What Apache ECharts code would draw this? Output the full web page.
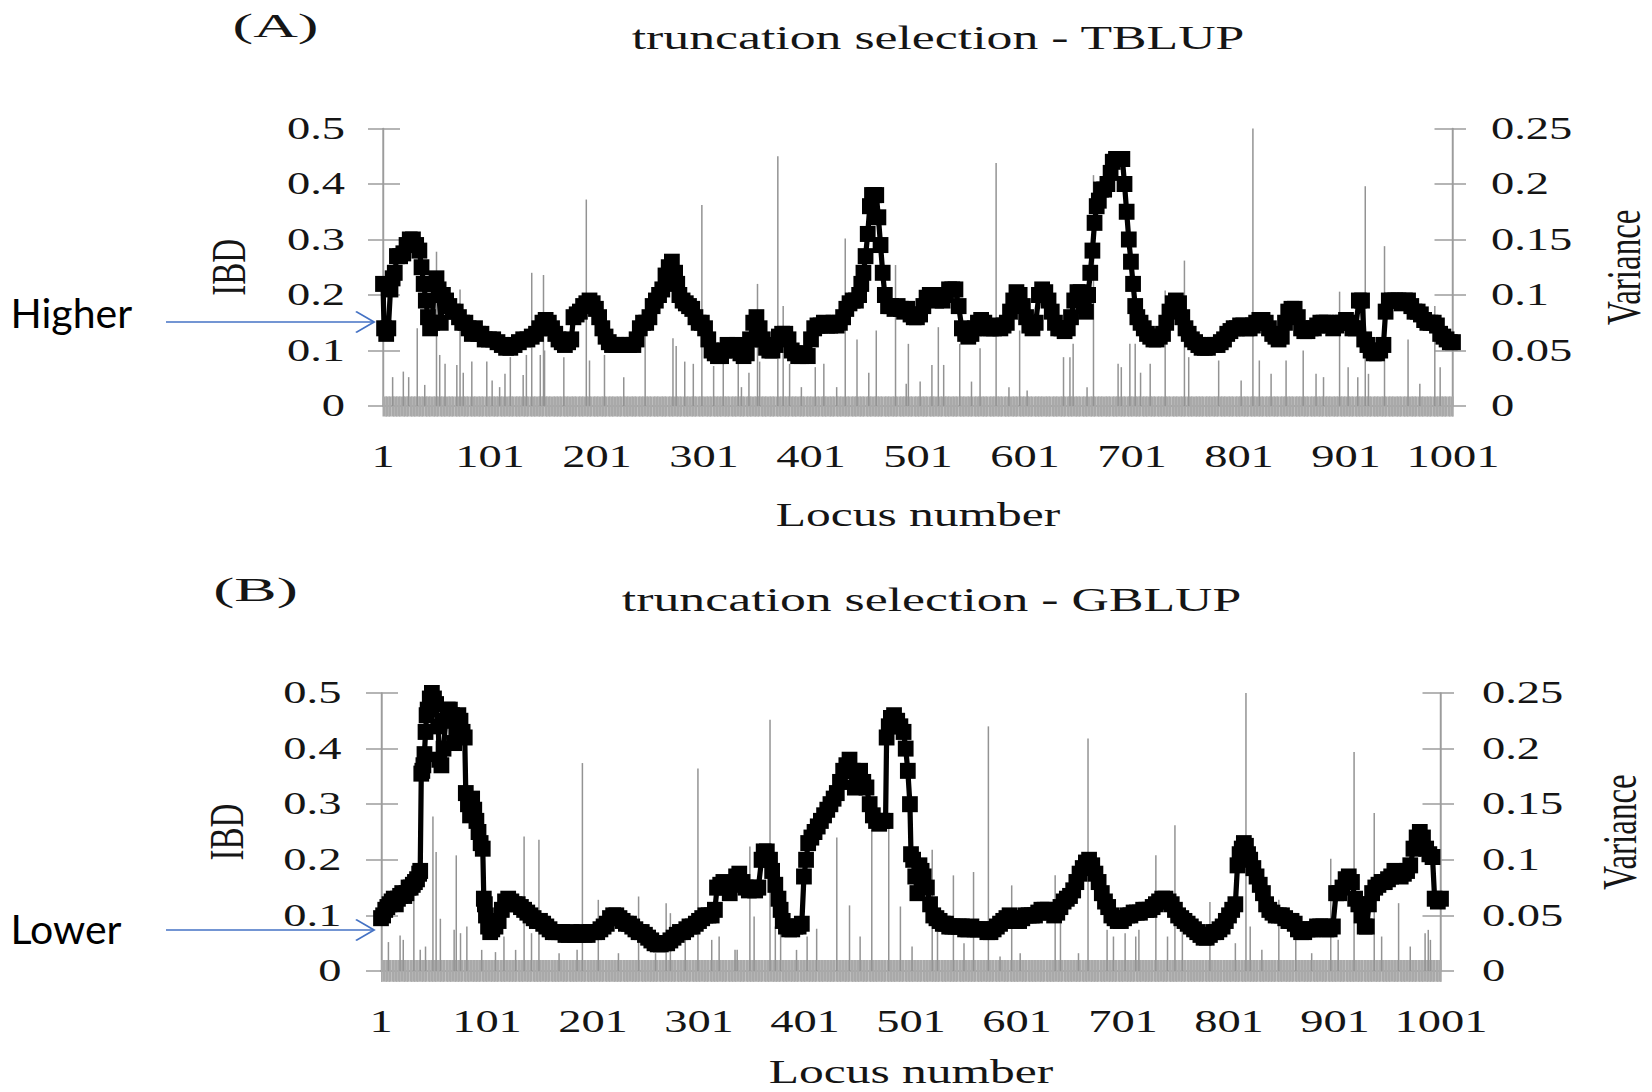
<!DOCTYPE html>
<html>
<head>
<meta charset="utf-8">
<script src="https://cdn.jsdelivr.net/npm/echarts@6/dist/echarts.min.js"></script>
<style>
  html, body { margin: 0; padding: 0; background: #fff; overflow: hidden; }
  #stage { width: 1652px; height: 1092px; overflow: hidden; position: relative; }
  /* the figure is laid out narrow and widened horizontally, like the printed plate */
  #chart { width: 1101.333px; height: 1092px; transform: scaleX(1.5); transform-origin: 0 0; }
</style>
</head>
<body>
<div id="stage"><div id="chart"></div></div>
<script>
// ---------------- data ----------------
const LOCUS_COUNT = 1001;
const locusLabels = Array.from({ length: LOCUS_COUNT }, (_, i) => String(i + 1));
const ibdTicks = { min: 0, max: 0.5, step: 0.1 };
const varianceTicks = { min: 0, max: 0.25, step: 0.05 };
const panelTitles = ['truncation selection - TBLUP', 'truncation selection - GBLUP'];
const panelTags = ['(A)', '(B)'];
const arrowNotes = ['Higher', 'Lower'];

// IBD per locus, [locus, IBD]
const ibdTBLUP = [
  [1,0.22],[2,0.14],[4,0.13],[6,0.14],[8,0.21],[10,0.23],[12,0.24],[14,0.27],[17,0.27],[20,0.275],
  [23,0.29],[26,0.30],[29,0.30],[32,0.29],[35,0.28],[37,0.25],[39,0.22],[41,0.19],[43,0.16],[45,0.14],
  [47,0.15],[49,0.22],[51,0.23],[53,0.21],[55,0.15],[57,0.20],[60,0.19],[63,0.18],[66,0.17],[69,0.17],
  [72,0.16],[75,0.15],[78,0.15],[81,0.14],[84,0.13],[87,0.14],[90,0.13],[93,0.13],[96,0.12],[100,0.12],
  [104,0.12],[108,0.115],[112,0.11],[116,0.105],[120,0.105],[124,0.11],[128,0.115],[132,0.12],[136,0.12],[140,0.125],
  [144,0.13],[147,0.14],[150,0.15],[153,0.155],[156,0.15],[159,0.14],[162,0.13],[165,0.12],[168,0.115],[171,0.11],
  [174,0.115],[177,0.12],[179,0.16],[182,0.165],[185,0.17],[188,0.18],[191,0.185],[194,0.19],[197,0.185],[200,0.175],
  [203,0.16],[206,0.14],[209,0.125],[212,0.115],[215,0.11],[219,0.11],[223,0.11],[227,0.11],[231,0.11],[235,0.11],
  [238,0.12],[241,0.14],[244,0.15],[247,0.15],[250,0.16],[253,0.18],[256,0.19],[259,0.20],[262,0.21],[265,0.235],
  [268,0.25],[271,0.26],[274,0.24],[276,0.22],[278,0.20],[281,0.19],[284,0.185],[287,0.18],[290,0.175],[293,0.16],
  [296,0.15],[299,0.15],[302,0.14],[305,0.12],[308,0.10],[311,0.095],[314,0.09],[317,0.09],[320,0.10],[323,0.11],
  [326,0.105],[329,0.10],[332,0.11],[335,0.095],[338,0.09],[341,0.095],[344,0.12],[347,0.15],[350,0.16],[353,0.14],
  [356,0.12],[359,0.105],[362,0.10],[365,0.10],[368,0.11],[371,0.125],[374,0.13],[377,0.13],[380,0.12],[383,0.10],
  [386,0.095],[389,0.09],[392,0.09],[395,0.095],[398,0.09],[401,0.12],[404,0.14],[407,0.145],[410,0.145],[413,0.15],
  [416,0.145],[419,0.145],[422,0.15],[425,0.145],[428,0.15],[431,0.16],[434,0.175],[437,0.185],[440,0.19],[443,0.19],
  [446,0.20],[448,0.22],[450,0.24],[452,0.27],[454,0.31],[456,0.36],[458,0.38],[460,0.38],[462,0.38],[464,0.34],
  [466,0.29],[468,0.24],[470,0.20],[473,0.18],[476,0.18],[479,0.175],[482,0.18],[485,0.175],[488,0.17],[491,0.175],
  [494,0.165],[497,0.16],[500,0.16],[503,0.165],[506,0.18],[509,0.195],[512,0.20],[515,0.195],[518,0.19],[521,0.20],
  [524,0.19],[527,0.20],[530,0.21],[533,0.21],[536,0.21],[539,0.18],[542,0.14],[545,0.13],[548,0.125],[551,0.13],
  [554,0.14],[557,0.15],[560,0.155],[563,0.15],[566,0.14],[569,0.14],[572,0.14],[575,0.145],[578,0.14],[581,0.145],
  [584,0.15],[587,0.17],[590,0.19],[593,0.205],[596,0.20],[599,0.18],[602,0.16],[605,0.145],[608,0.14],[611,0.15],
  [614,0.20],[617,0.21],[620,0.205],[623,0.19],[626,0.17],[629,0.15],[632,0.14],[635,0.14],[638,0.135],[641,0.14],
  [644,0.16],[647,0.19],[650,0.205],[653,0.205],[656,0.18],[658,0.17],[660,0.20],[662,0.24],[664,0.28],[666,0.33],
  [668,0.36],[670,0.37],[672,0.39],[675,0.39],[678,0.40],[681,0.42],[683,0.44],[686,0.445],[689,0.445],[692,0.445],
  [694,0.40],[696,0.35],[698,0.30],[700,0.26],[702,0.22],[704,0.18],[706,0.16],[709,0.15],[712,0.14],[715,0.13],
  [718,0.125],[721,0.12],[724,0.12],[727,0.125],[730,0.13],[733,0.15],[736,0.17],[739,0.185],[742,0.19],[745,0.185],
  [748,0.16],[751,0.14],[754,0.13],[757,0.12],[760,0.115],[763,0.11],[766,0.105],[769,0.105],[772,0.105],[775,0.11],
  [778,0.11],[781,0.11],[784,0.115],[787,0.12],[790,0.13],[793,0.135],[796,0.14],[799,0.14],[802,0.145],[805,0.145],
  [808,0.14],[811,0.14],[814,0.145],[817,0.15],[820,0.155],[823,0.155],[826,0.15],[829,0.14],[832,0.13],[835,0.125],
  [838,0.12],[841,0.125],[844,0.15],[847,0.17],[850,0.175],[853,0.175],[856,0.16],[859,0.14],[862,0.135],[865,0.135],
  [868,0.14],[871,0.14],[874,0.145],[877,0.15],[880,0.15],[883,0.15],[886,0.145],[889,0.14],[892,0.145],[895,0.15],
  [898,0.15],[901,0.155],[904,0.15],[907,0.14],[910,0.14],[913,0.19],[916,0.19],[918,0.12],[921,0.11],[924,0.10],
  [927,0.095],[930,0.095],[933,0.10],[936,0.11],[938,0.17],[941,0.19],[944,0.19],[947,0.19],[950,0.19],[953,0.185],
  [956,0.19],[959,0.19],[962,0.18],[965,0.17],[968,0.17],[971,0.165],[974,0.155],[977,0.15],[980,0.15],[983,0.15],
  [986,0.145],[989,0.13],[992,0.125],[995,0.12],[998,0.115],[1001,0.115]
];

const ibdGBLUP = [
  [1,0.095],[3,0.10],[5,0.11],[7,0.115],[9,0.12],[11,0.125],[13,0.13],[15,0.12],[17,0.13],[19,0.135],
  [21,0.14],[23,0.135],[25,0.14],[27,0.15],[29,0.15],[31,0.155],[33,0.16],[35,0.165],[37,0.175],[38,0.18],
  [39,0.355],[40,0.36],[41,0.37],[42,0.39],[43,0.43],[44,0.46],[45,0.47],[47,0.49],[49,0.50],[51,0.49],
  [53,0.48],[55,0.44],[56,0.38],[58,0.37],[60,0.40],[62,0.45],[64,0.47],[66,0.47],[68,0.46],[70,0.41],
  [72,0.43],[74,0.46],[76,0.45],[78,0.43],[80,0.42],[81,0.32],[83,0.30],[85,0.28],[87,0.31],[89,0.29],
  [91,0.27],[93,0.25],[95,0.23],[97,0.22],[98,0.13],[99,0.12],[100,0.10],[102,0.08],[104,0.07],[106,0.075],
  [109,0.08],[112,0.09],[115,0.11],[118,0.125],[121,0.13],[124,0.125],[127,0.12],[130,0.12],[133,0.115],[136,0.11],
  [139,0.105],[142,0.10],[145,0.095],[148,0.09],[151,0.09],[154,0.085],[157,0.08],[160,0.075],[163,0.07],[166,0.07],
  [169,0.07],[172,0.07],[175,0.065],[178,0.065],[181,0.07],[184,0.065],[187,0.065],[190,0.07],[193,0.065],[196,0.065],
  [199,0.07],[202,0.07],[205,0.07],[208,0.075],[211,0.08],[214,0.085],[217,0.095],[220,0.10],[223,0.10],[226,0.095],
  [229,0.09],[232,0.085],[235,0.085],[238,0.08],[241,0.075],[244,0.07],[247,0.07],[250,0.065],[253,0.06],[256,0.055],
  [259,0.05],[262,0.048],[265,0.048],[268,0.05],[271,0.05],[274,0.055],[277,0.06],[280,0.065],[283,0.07],[286,0.07],
  [289,0.075],[292,0.08],[295,0.08],[298,0.085],[301,0.09],[304,0.095],[307,0.10],[310,0.10],[313,0.10],[316,0.11],
  [318,0.15],[321,0.155],[324,0.16],[327,0.15],[330,0.14],[333,0.155],[336,0.17],[339,0.175],[342,0.16],[345,0.15],
  [348,0.145],[351,0.15],[354,0.145],[357,0.15],[360,0.20],[362,0.215],[365,0.215],[368,0.20],[370,0.18],[373,0.155],
  [376,0.13],[378,0.11],[380,0.09],[383,0.08],[386,0.075],[389,0.075],[392,0.08],[395,0.08],[398,0.085],[400,0.17],
  [402,0.20],[404,0.23],[407,0.24],[410,0.25],[413,0.26],[416,0.27],[419,0.28],[422,0.29],[425,0.30],[428,0.31],
  [431,0.32],[434,0.34],[437,0.36],[440,0.37],[443,0.38],[446,0.36],[448,0.33],[450,0.35],[453,0.36],[456,0.34],
  [459,0.33],[462,0.30],[465,0.28],[468,0.27],[471,0.265],[474,0.27],[477,0.27],[478,0.42],[480,0.44],[482,0.455],
  [485,0.46],[488,0.45],[491,0.44],[494,0.43],[496,0.40],[498,0.36],[500,0.30],[501,0.21],[503,0.20],[505,0.17],
  [507,0.14],[509,0.19],[511,0.18],[513,0.17],[516,0.15],[519,0.12],[522,0.10],[525,0.095],[528,0.09],[531,0.085],
  [534,0.085],[537,0.08],[540,0.08],[543,0.08],[546,0.08],[549,0.08],[552,0.075],[555,0.075],[558,0.08],[561,0.075],
  [564,0.075],[567,0.075],[570,0.075],[573,0.07],[576,0.07],[579,0.075],[582,0.08],[585,0.085],[588,0.09],[591,0.095],
  [594,0.10],[597,0.095],[600,0.09],[603,0.09],[606,0.095],[609,0.10],[612,0.10],[615,0.10],[618,0.10],[621,0.105],
  [624,0.11],[627,0.11],[630,0.11],[633,0.105],[636,0.10],[639,0.105],[642,0.115],[645,0.125],[648,0.13],[651,0.135],
  [654,0.145],[657,0.16],[660,0.175],[663,0.185],[666,0.195],[669,0.20],[672,0.19],[675,0.175],[678,0.16],[681,0.14],
  [684,0.125],[687,0.115],[690,0.10],[693,0.095],[696,0.09],[699,0.09],[702,0.095],[705,0.10],[708,0.10],[711,0.105],
  [714,0.105],[717,0.105],[720,0.11],[723,0.11],[726,0.11],[729,0.115],[732,0.12],[735,0.125],[738,0.13],[741,0.13],
  [744,0.125],[747,0.12],[750,0.11],[753,0.10],[756,0.095],[759,0.09],[762,0.085],[765,0.08],[768,0.075],[771,0.07],
  [774,0.065],[777,0.06],[780,0.06],[783,0.065],[786,0.07],[789,0.07],[792,0.075],[795,0.08],[798,0.09],[801,0.10],
  [804,0.11],[807,0.12],[809,0.19],[811,0.21],[813,0.22],[815,0.23],[817,0.225],[819,0.21],[821,0.20],[824,0.185],
  [827,0.17],[830,0.155],[833,0.14],[836,0.12],[839,0.11],[842,0.105],[845,0.10],[848,0.10],[851,0.10],[854,0.095],
  [857,0.09],[860,0.09],[863,0.085],[866,0.075],[869,0.07],[872,0.07],[875,0.075],[878,0.075],[881,0.075],[884,0.08],
  [887,0.08],[890,0.08],[893,0.075],[896,0.075],[899,0.08],[902,0.14],[905,0.14],[908,0.15],[911,0.165],[914,0.17],
  [917,0.16],[920,0.13],[923,0.12],[926,0.10],[929,0.08],[931,0.08],[933,0.12],[936,0.14],[939,0.15],[942,0.155],
  [945,0.16],[948,0.16],[951,0.165],[954,0.17],[957,0.18],[960,0.175],[963,0.17],[966,0.175],[969,0.18],[972,0.19],
  [975,0.22],[978,0.24],[981,0.25],[984,0.24],[987,0.22],[990,0.21],[993,0.205],[995,0.13],[998,0.125],[1001,0.13]
];

// variance per locus, [locus, variance]
const varTBLUP = [
  [10,0.026],[20,0.031],[25,0.026],[33,0.07],[40,0.019],[51,0.139],[54,0.046],[59,0.038],[70,0.037],[73,0.105],
  [76,0.03],[84,0.04],[98,0.04],[103,0.023],[110,0.017],[115,0.029],[120,0.044],[132,0.028],[135,0.046],[140,0.12],
  [148,0.046],[151,0.118],[152,0.05],[170,0.044],[191,0.186],[194,0.041],[208,0.046],[226,0.026],[246,0.068],[272,0.061],
  [275,0.054],[283,0.04],[291,0.038],[299,0.181],[310,0.036],[319,0.041],[333,0.038],[336,0.017],[343,0.03],[351,0.11],
  [353,0.04],[370,0.225],[375,0.09],[381,0.038],[392,0.017],[405,0.035],[413,0.038],[425,0.017],[433,0.151],[444,0.06],
  [455,0.03],[462,0.068],[480,0.127],[490,0.02],[492,0.056],[503,0.022],[514,0.037],[520,0.071],[525,0.037],[540,0.056],
  [551,0.022],[559,0.052],[574,0.219],[586,0.017],[596,0.068],[603,0.014],[637,0.044],[643,0.044],[646,0.056],[659,0.017],
  [665,0.208],[688,0.038],[691,0.035],[699,0.056],[704,0.056],[709,0.03],[718,0.038],[732,0.104],[750,0.131],[754,0.044],
  [782,0.041],[803,0.023],[814,0.25],[820,0.041],[831,0.029],[845,0.041],[861,0.05],[873,0.029],[880,0.026],[895,0.103],
  [903,0.035],[912,0.026],[919,0.198],[922,0.029],[937,0.144],[959,0.06],[970,0.02],[984,0.09],[989,0.035]
];

const varGBLUP = [
  [8,0.026],[19,0.032],[22,0.028],[32,0.09],[38,0.019],[43,0.022],[50,0.139],[53,0.107],[57,0.047],[70,0.037],
  [72,0.104],[76,0.034],[82,0.04],[96,0.019],[109,0.017],[117,0.031],[128,0.019],[136,0.121],[143,0.034],[150,0.118],
  [169,0.016],[186,0.019],[191,0.187],[206,0.064],[225,0.016],[244,0.067],[260,0.016],[270,0.061],[274,0.052],[288,0.031],
  [300,0.182],[313,0.028],[320,0.031],[335,0.019],[337,0.019],[349,0.112],[353,0.049],[368,0.226],[373,0.04],[378,0.037],
  [393,0.019],[403,0.031],[412,0.038],[431,0.12],[443,0.059],[453,0.031],[464,0.127],[480,0.13],[491,0.058],[502,0.022],
  [521,0.109],[526,0.037],[541,0.086],[551,0.025],[560,0.089],[574,0.22],[585,0.013],[596,0.077],[604,0.016],[637,0.086],
  [642,0.043],[659,0.016],[668,0.209],[686,0.037],[692,0.031],[703,0.034],[713,0.031],[716,0.037],[732,0.104],[743,0.031],
  [750,0.131],[757,0.037],[783,0.062],[807,0.025],[817,0.25],[821,0.04],[832,0.019],[848,0.064],[864,0.031],[879,0.016],
  [897,0.101],[904,0.028],[919,0.197],[938,0.142],[945,0.031],[961,0.061],[972,0.022],[986,0.034],[989,0.037],[991,0.028]
];

const ibdSeries = [ibdTBLUP, ibdGBLUP];
const varSeries = [varTBLUP, varGBLUP];

// ---------------- layout (page pixels) ----------------
const STRETCH = 1.5;
const cx = v => v / STRETCH;           // page x -> chart x (before widening)
const SERIF = 'Liberation Serif';
const INK = '#151515';
const AXIS_GRAY = '#9c9c9c';
const BAND_GRAY = '#a9a9a9';

const frames = [
  { left: 383, right: 1453, top: 128.5, bottom: 406, titleX: 930.5, titleTop: 15,
    xNameGap: 92.5, ibdGap: 86.6, varGap: 97.3, ibdMargin: 25.3, varMargin: 25.3,
    bandUp: 9.5, bandDown: 10.5, tagX: 275.5, tagY: 25, tagScale: 1.2,
    noteY: 313, arrowY: 322 },
  { left: 381, right: 1441, top: 693, bottom: 971, titleX: 924, titleTop: 577,
    xNameGap: 85, ibdGap: 86.3, varGap: 102.3, ibdMargin: 26.4, varMargin: 27.3,
    bandUp: 11, bandDown: 10.7, tagX: 255.5, tagY: 590, tagScale: 1.23,
    noteY: 929, arrowY: 930 }
];

const grids = [], xAxes = [], yAxes = [], series = [], titles = [], graphics = [];

frames.forEach((f, i) => {
  grids.push({
    left: cx(f.left), top: f.top,
    width: cx(f.right - f.left), height: f.bottom - f.top,
    containLabel: false, outerBoundsMode: 'none'
  });

  const tickStyle = { color: BAND_GRAY, width: 1 };
  // locus axis with ticks below the baseline
  xAxes.push({
    gridIndex: i, type: 'category', data: locusLabels, boundaryGap: false, position: 'bottom',
    axisLine: { show: true, lineStyle: { color: '#7c7c7c', width: 1.5 } },
    axisTick: { show: true, interval: 0, length: f.bandDown, lineStyle: tickStyle },
    axisLabel: { interval: 99, margin: 35, fontFamily: SERIF, fontSize: 31, color: INK },
    splitLine: { show: false },
    name: 'Locus number', nameLocation: 'middle', nameGap: f.xNameGap,
    nameTextStyle: { fontFamily: SERIF, fontSize: 33, color: INK }
  });
  // the same ticks continued above the baseline
  xAxes.push({
    gridIndex: i, type: 'category', data: locusLabels, boundaryGap: false, position: 'bottom',
    axisLine: { show: false },
    axisTick: { show: true, inside: true, interval: 0, length: f.bandUp, lineStyle: tickStyle },
    axisLabel: { show: false }, splitLine: { show: false }
  });

  const yTick = { color: AXIS_GRAY, width: 1.5 };
  const nameStyle = { fontFamily: SERIF, fontSize: 33, color: INK };
  // IBD axis (left)
  yAxes.push({
    gridIndex: i, type: 'value', position: 'left',
    min: ibdTicks.min, max: ibdTicks.max, interval: ibdTicks.step,
    axisLine: { show: true, lineStyle: { color: AXIS_GRAY, width: 1.3 } },
    axisTick: { show: true, length: cx(15), lineStyle: yTick },
    axisLabel: { margin: f.ibdMargin, fontFamily: SERIF, fontSize: 31, color: INK },
    splitLine: { show: false },
    name: 'IBD', nameLocation: 'middle', nameRotate: 90, nameGap: f.ibdGap, nameTextStyle: nameStyle
  });
  yAxes.push({
    gridIndex: i, type: 'value', position: 'left',
    min: ibdTicks.min, max: ibdTicks.max, interval: ibdTicks.step,
    axisLine: { show: false },
    axisTick: { show: true, inside: true, length: cx(17), lineStyle: yTick },
    axisLabel: { show: false }, splitLine: { show: false }
  });
  // variance axis (right)
  yAxes.push({
    gridIndex: i, type: 'value', position: 'right',
    min: varianceTicks.min, max: varianceTicks.max, interval: varianceTicks.step,
    axisLine: { show: true, lineStyle: { color: AXIS_GRAY, width: 1.3 } },
    axisTick: { show: true, length: cx(13), lineStyle: yTick },
    axisLabel: { margin: f.varMargin, fontFamily: SERIF, fontSize: 31, color: INK },
    splitLine: { show: false },
    name: 'Variance', nameLocation: 'middle', nameRotate: 90, nameGap: f.varGap, nameTextStyle: nameStyle
  });
  yAxes.push({
    gridIndex: i, type: 'value', position: 'right',
    min: varianceTicks.min, max: varianceTicks.max, interval: varianceTicks.step,
    axisLine: { show: false },
    axisTick: { show: true, inside: true, length: cx(18.5), lineStyle: yTick },
    axisLabel: { show: false }, splitLine: { show: false }
  });

  series.push({
    type: 'bar', name: 'Variance', xAxisIndex: 2 * i, yAxisIndex: 4 * i + 2,
    data: varSeries[i].map(([locus, v]) => [locus - 1, v]),
    barWidth: 1, itemStyle: { color: '#939393' }, z: 1, silent: true
  });
  series.push({
    type: 'line', name: 'IBD', xAxisIndex: 2 * i, yAxisIndex: 4 * i,
    data: ibdSeries[i].map(([locus, v]) => [locus - 1, v]),
    symbol: 'rect', symbolSize: [10.5, 16], showAllSymbol: true,
    lineStyle: { color: '#000', width: 3.5 }, itemStyle: { color: '#000' },
    z: 3, silent: true
  });

  titles.push({
    text: panelTitles[i], left: cx(f.titleX), top: f.titleTop, textAlign: 'center',
    textStyle: { fontFamily: SERIF, fontSize: 34.5, fontWeight: 'normal', color: INK }
  });

  // panel tag
  graphics.push({
    type: 'text', x: cx(f.tagX), y: f.tagY, scaleX: f.tagScale,
    style: { text: panelTags[i], font: '34.4px "Liberation Serif"', fill: INK,
             align: 'center', verticalAlign: 'middle', textAlign: 'center', textVerticalAlign: 'middle' }
  });
  // side note with arrow pointing at the first locus
  graphics.push({
    type: 'text', x: cx(10.5), y: f.noteY, scaleX: 1 / STRETCH,
    style: { text: arrowNotes[i], font: '41px Lato', fill: '#000',
             align: 'left', verticalAlign: 'middle', textAlign: 'left', textVerticalAlign: 'middle' }
  });
  graphics.push({
    type: 'polyline',
    shape: { points: [[cx(166), f.arrowY], [cx(374), f.arrowY]] },
    style: { stroke: '#4472C4', lineWidth: 1.6, fill: null }
  });
  graphics.push({
    type: 'polyline',
    shape: { points: [[cx(356), f.arrowY - 10.5], [cx(374), f.arrowY], [cx(356), f.arrowY + 10.5]] },
    style: { stroke: '#4472C4', lineWidth: 1.6, fill: null }
  });
});

const chart = echarts.init(document.getElementById('chart'), null, { renderer: 'svg' });
chart.setOption({
  animation: false,
  backgroundColor: '#ffffff',
  title: titles,
  grid: grids,
  xAxis: xAxes,
  yAxis: yAxes,
  series: series,
  graphic: { elements: graphics },
  tooltip: { show: false },
  legend: { show: false }
});
</script>
</body>
</html>
